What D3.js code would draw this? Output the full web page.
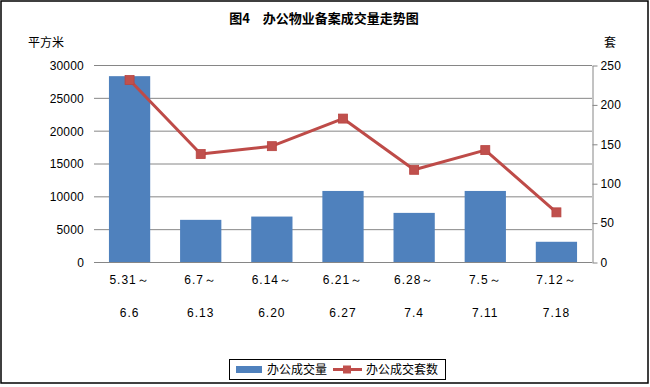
<!DOCTYPE html>
<html>
<head>
<meta charset="utf-8">
<script src="https://cdn.jsdelivr.net/npm/d3@7"></script>
<style>
  body { margin: 0; background: #fff; }
  svg { display: block; font-family: "Noto Sans CJK SC", "DejaVu Sans", sans-serif; }
</style>
</head>
<body>
<div id="container"></div>
<script>
// ------ data ------
const periodsTop = ['5.31～', '6.7～', '6.14～', '6.21～', '6.28～', '7.5～', '7.12～'];
const periodsBottom = ['6.6', '6.13', '6.20', '6.27', '7.4', '7.11', '7.18'];
const areaValues = [28300, 6420, 6920, 10820, 7480, 10820, 3080];   // 平方米
const unitValues = [231, 137, 147, 182, 117, 142, 63];              // 套
const leftTicks = [0, 5000, 10000, 15000, 20000, 25000, 30000];
const rightTicks = [0, 50, 100, 150, 200, 250];

// ------ layout ------
const width = 650, height = 387;
const plot = { left: 94, right: 592, top: 65, bottom: 262 };
const numFont = '"Liberation Sans", Arial, sans-serif';

const svg = d3.select('#container').append('svg')
  .attr('width', width)
  .attr('height', height);

// outer frame
svg.append('rect')
  .attr('x', 1).attr('y', 1)
  .attr('width', 647).attr('height', 382)
  .attr('fill', 'none')
  .attr('stroke', '#000')
  .attr('stroke-width', 1.5);

const x = d3.scaleBand()
  .domain(d3.range(periodsTop.length))
  .range([plot.left, plot.right])
  .paddingInner(0.42)
  .paddingOuter(0.21);

const yL = d3.scaleLinear().domain([0, 30000]).range([plot.bottom, plot.top]);
const yR = d3.scaleLinear().domain([0, 250]).range([plot.bottom, plot.top]);

// gridlines
svg.append('g')
  .selectAll('line').data(leftTicks.slice(1))
  .enter().append('line')
  .attr('x1', plot.left).attr('x2', plot.right)
  .attr('y1', d => yL(d) + 0.5).attr('y2', d => yL(d) + 0.5)
  .attr('stroke', '#868686');

// left axis
const leftAxis = svg.append('g')
  .attr('transform', `translate(${plot.left},0.5)`)
  .call(d3.axisLeft(yL).tickValues(leftTicks).tickFormat(d3.format('d')).tickSize(0).tickPadding(10));
leftAxis.select('.domain').remove();
leftAxis.selectAll('text').attr('font-size', 12).attr('fill', '#000')
  .attr('font-family', numFont).attr('letter-spacing', 0.2);

// right axis
const rightAxis = svg.append('g')
  .attr('transform', `translate(${plot.right + 0.5},0.5)`)
  .call(d3.axisRight(yR).tickValues(rightTicks).tickSizeInner(5).tickSizeOuter(0).tickPadding(3));
rightAxis.select('.domain').attr('stroke', '#868686');
rightAxis.selectAll('.tick line').attr('stroke', '#868686');
rightAxis.selectAll('text').attr('font-size', 12).attr('fill', '#000')
  .attr('font-family', numFont).attr('letter-spacing', 0.2);

// bars
svg.append('g')
  .selectAll('rect').data(areaValues)
  .enter().append('rect')
  .attr('x', (d, i) => x(i))
  .attr('y', d => yL(d))
  .attr('width', x.bandwidth())
  .attr('height', d => yL(0) - yL(d))
  .attr('fill', '#4F81BD');

// baseline
svg.append('line')
  .attr('x1', plot.left).attr('x2', plot.right)
  .attr('y1', plot.bottom + 0.5).attr('y2', plot.bottom + 0.5)
  .attr('stroke', '#868686');

// line series
const line = d3.line()
  .x((d, i) => x(i) + x.bandwidth() / 2)
  .y(d => yR(d));

svg.append('path')
  .datum(unitValues)
  .attr('d', line)
  .attr('fill', 'none')
  .attr('stroke', '#BE4B48')
  .attr('stroke-width', 3)
  .attr('stroke-linejoin', 'round');

svg.append('g')
  .selectAll('rect').data(unitValues)
  .enter().append('rect')
  .attr('x', (d, i) => x(i) + x.bandwidth() / 2 - 4.5)
  .attr('y', d => yR(d) - 4.5)
  .attr('width', 9).attr('height', 9)
  .attr('fill', '#C0504D')
  .attr('stroke', '#B84440')
  .attr('stroke-width', 0.8);

// category labels (two lines)
const cats = svg.append('g').attr('font-size', 12).attr('text-anchor', 'middle')
  .attr('font-family', numFont).attr('letter-spacing', 1);
cats.selectAll('.top').data(periodsTop)
  .enter().append('text')
  .attr('class', 'top')
  .attr('x', (d, i) => x(i) + x.bandwidth() / 2)
  .attr('y', 284)
  .text(d => d);
cats.selectAll('.bottom').data(periodsBottom)
  .enter().append('text')
  .attr('class', 'bottom')
  .attr('x', (d, i) => x(i) + x.bandwidth() / 2)
  .attr('y', 317)
  .text(d => d);

// titles
svg.append('text')
  .attr('x', 324).attr('y', 23)
  .attr('text-anchor', 'middle')
  .attr('font-size', 13).attr('font-weight', 'bold')
  .text('图4　办公物业备案成交量走势图');

svg.append('text')
  .attr('x', 28).attr('y', 47)
  .attr('font-size', 12)
  .text('平方米');

svg.append('text')
  .attr('x', 604).attr('y', 47)
  .attr('font-size', 12)
  .text('套');

// legend
const legend = svg.append('g');
legend.append('rect')
  .attr('x', 229.5).attr('y', 359.5)
  .attr('width', 216).attr('height', 20)
  .attr('fill', '#fff').attr('stroke', '#000');
legend.append('rect')
  .attr('x', 236).attr('y', 366)
  .attr('width', 26).attr('height', 7)
  .attr('fill', '#4F81BD');
legend.append('text')
  .attr('x', 267).attr('y', 374)
  .attr('font-size', 12)
  .text('办公成交量');
legend.append('line')
  .attr('x1', 333).attr('x2', 362)
  .attr('y1', 369.5).attr('y2', 369.5)
  .attr('stroke', '#BE4B48').attr('stroke-width', 3);
legend.append('rect')
  .attr('x', 343).attr('y', 365.5)
  .attr('width', 8).attr('height', 8)
  .attr('fill', '#C0504D');
legend.append('text')
  .attr('x', 366).attr('y', 374)
  .attr('font-size', 12)
  .text('办公成交套数');
</script>
</body>
</html>
